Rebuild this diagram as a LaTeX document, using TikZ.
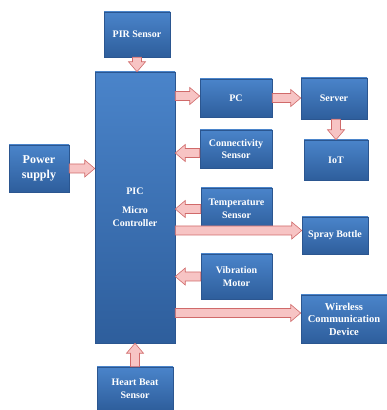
\documentclass[tikz,border=0pt]{standalone}
\usepackage{fontspec}
\setmainfont{Liberation Serif}
\usetikzlibrary{calc,shadows}
\definecolor{boxtop}{HTML}{4A84CA}
\definecolor{boxbot}{HTML}{2E5E9C}
\definecolor{boxline}{HTML}{2B5690}
\definecolor{arrowfill}{HTML}{F7C4C4}
\definecolor{arrowline}{HTML}{D06A6A}
\tikzset{
	fat/.style={draw=arrowline, fill=arrowfill, line width=0.6pt, to path={
		let \p1=(\tikztostart), \p2=(\tikztotarget),
		\n1={atan2(\y2-\y1,\x2-\x1)}, \n2={veclen(\x2-\x1,\y2-\y1)} in
		[shift={(\p1)}, rotate=\n1]
		(0,-4.5) -- (\n2-10,-4.5) -- (\n2-10,-8.5) -- (\n2,0)
		-- (\n2-10,8.5) -- (\n2-10,4.5) -- (0,4.5) -- cycle}}
}
\begin{document}
\begin{tikzpicture}[x=1pt, y=1pt,
	block/.style={draw=boxline, line width=0.5pt, top color=boxtop, bottom color=boxbot,
		text=white, align=center, inner sep=2pt,
		font=\bfseries\fontsize{10}{12.8}\selectfont,
		drop shadow={shadow xshift=1.2pt, shadow yshift=-1.2pt, opacity=0.35}}]
	\useasboundingbox (0,0) rectangle (387,410);
	\node[block, minimum width=66pt, minimum height=45pt] (pir) at (137,375.5) {PIR Sensor};
	\node[block, minimum width=80pt, minimum height=271pt] (pic) at (135,202.5) {PIC\\[6pt]Micro\\Controller};
	\node[block, minimum width=60pt, minimum height=47pt, font=\bfseries\fontsize{12}{15}\selectfont] (power) at (39,241.5) {Power\\supply};
	\node[block, minimum width=72pt, minimum height=38pt] (pc) at (236,312) {PC};
	\node[block, minimum width=66pt, minimum height=41pt] (server) at (334,311.5) {Server};
	\node[block, minimum width=64pt, minimum height=40pt] (iot) at (336,250) {IoT};
	\node[block, minimum width=72pt, minimum height=38pt] (conn) at (236,261) {Connectivity\\Sensor};
	\node[block, minimum width=71pt, minimum height=42pt] (temp) at (236.5,201) {Temperature\\Sensor};
	\node[block, minimum width=66pt, minimum height=37pt] (spray) at (335,174.5) {Spray Bottle};
	\node[block, minimum width=71pt, minimum height=45pt] (vib) at (236.5,133.5) {Vibration\\Motor};
	\node[block, minimum width=86pt, minimum height=48pt, font=\bfseries\fontsize{10.5}{12.5}\selectfont] (wireless) at (344,91) {Wireless\\Communication\\Device};
	\node[block, minimum width=76pt, minimum height=43pt] (heart) at (135,21.5) {Heart Beat\\Sensor};
	\draw[fat] (pir.south) to (pir.south |- pic.north);
	\draw[fat] (power.east) to (power.east -| pic.west);
	\draw[fat] ([yshift=2pt]pic.east |- pc.west) to ([yshift=2pt]pc.west);
	\draw[fat] (pc.east) to (pc.east -| server.west);
	\draw[fat] (iot.north |- server.south) to (iot.north);
	\draw[fat] ([yshift=-4pt]conn.west) to ([yshift=-4pt]conn.west -| pic.east);
	\draw[fat] (temp.west) to (temp.west -| pic.east);
	\draw[fat] ([yshift=5pt]pic.east |- spray.west) to ([yshift=5pt]spray.west);
	\draw[fat] (vib.west) to (vib.west -| pic.east);
	\draw[fat] ([yshift=6pt]pic.east |- wireless.west) to ([yshift=6pt]wireless.west);
	\draw[fat] (heart.north) to (heart.north |- pic.south);
\end{tikzpicture}
\end{document}
